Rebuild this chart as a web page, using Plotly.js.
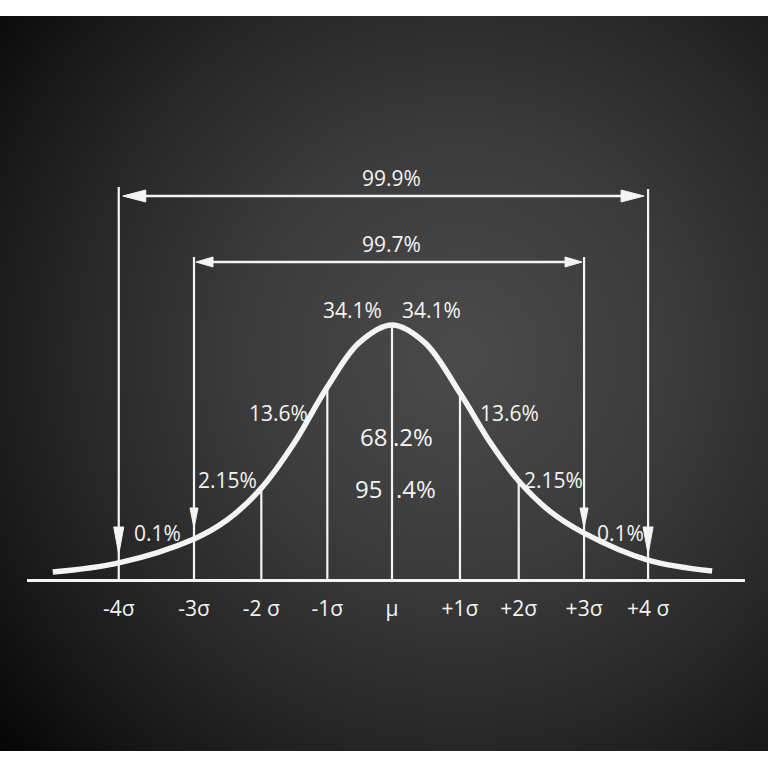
<!DOCTYPE html>
<html>
<head>
<meta charset="utf-8">
<script src="https://cdn.plot.ly/plotly-3.0.1.min.js"></script>
<style>
  html, body { margin: 0; padding: 0; background: #ffffff; }
  #chart { width: 768px; height: 768px; }
</style>
</head>
<body>
<div id="chart"></div>
<script>
// ---------------- DATA ----------------
// x values in sigma units, curve heights as a fraction of the peak height
const sigmaLabels = ["-4σ", "-3σ", "-2 σ", "-1σ", "μ", "+1σ", "+2σ", "+3σ", "+4 σ"];
const sigmaPos    = [-4.14, -3.00, -1.98, -0.98, 0, 1.03, 1.92, 2.91, 3.88];
const lineTop     = [1.541, 1.267, 0.36, 0.757, 1.0, 0.733, 0.388, 1.267, 1.533];

const curveX = [-5.14, -4.14, -3.00, -2.50, -1.98, -1.50, -0.98, -0.50, 0,
                0.50, 1.03, 1.50, 1.92, 2.40, 2.91, 3.88, 4.85];
const curveY = [0.031, 0.067, 0.161, 0.235, 0.360, 0.530, 0.757, 0.930, 1.0,
                0.930, 0.733, 0.535, 0.388, 0.268, 0.184, 0.078, 0.035];

const bandLabels     = ["0.1%", "2.15%", "13.6%", "34.1%", "34.1%", "13.6%", "2.15%", "0.1%"];
const coverageLabels = ["99.9%", "99.7%"];
const centralLabels  = [["68", ".2%"], ["95", ".4%"]];

// ---------------- LAYOUT / STYLE ----------------
const W = 768, H = 768;
const PX = 66;    // pixels per sigma
const PY = 255;   // pixels per unit height
const X0 = 392, Y0 = 580;  // pixel of (0,0)
const toX = px => (px - X0) / PX;
const toY = py => (Y0 - py) / PY;

const WHITE = "#f4f4f4";
const FONT = '"Open Sans", "Noto Sans", sans-serif';
const NARROW = '"Liberation Sans Narrow", "Open Sans", sans-serif';

// background chalkboard gradient
function boardImage() {
  const c = document.createElement("canvas");
  c.width = 768; c.height = 735;
  const g = c.getContext("2d");
  const rg = g.createRadialGradient(460, 340, 10, 460, 340, 600);
  rg.addColorStop(0.0, "#4a4a4a");
  rg.addColorStop(0.35, "#3b3b3b");
  rg.addColorStop(0.65, "#262626");
  rg.addColorStop(0.85, "#151515");
  rg.addColorStop(1.0, "#060606");
  g.fillStyle = rg;
  g.fillRect(0, 0, 768, 735);
  return c.toDataURL("image/png");
}

const traces = [];

// vertical sigma lines
const vx = [], vy = [];
sigmaPos.forEach((p, i) => { vx.push(p, p, null); vy.push(0, lineTop[i], null); });
traces.push({ x: vx, y: vy, mode: "lines", line: { color: WHITE, width: 2.2 }, hoverinfo: "skip" });

// bell curve
traces.push({ x: curveX, y: curveY, mode: "lines",
  line: { color: WHITE, width: 5.5, shape: "spline", smoothing: 1 }, hoverinfo: "skip" });

// arrow helpers (filled triangles)
function headDown(xTip, yTip, lenPx, halfPx) {
  return { x: [xTip - halfPx / PX, xTip + halfPx / PX, xTip, xTip - halfPx / PX],
           y: [yTip + lenPx / PY, yTip + lenPx / PY, yTip, yTip + lenPx / PY] };
}
function headH(xTip, y, dir, lenPx, halfPx) {
  const xb = xTip - dir * lenPx / PX;
  return { x: [xb, xb, xTip, xb], y: [y - halfPx / PY, y + halfPx / PY, y, y - halfPx / PY] };
}
const heads = [];
// vertical arrows on +-4 sigma and +-3 sigma
[[0, 554, 27, 5], [8, 554, 27, 5], [1, 528, 20, 4], [7, 528, 20, 4]].forEach(([i, tipPy, len, half]) => {
  heads.push(headDown(sigmaPos[i], toY(tipPy), len, half));
});
// horizontal coverage arrows
const covLevels = [toY(196), toY(262)];
const covEnds = [[0, 8], [1, 7]];
const covGap = [4, 2];
const covHead = [[23, 6], [17, 5]];
const hx = [], hy = [];
covEnds.forEach(([a, b], k) => {
  const xl = sigmaPos[a] + covGap[k] / PX, xr = sigmaPos[b] - covGap[k] / PX;
  hx.push(xl + 5 / PX, xr - 5 / PX, null); hy.push(covLevels[k], covLevels[k], null);
  heads.push(headH(xl, covLevels[k], -1, covHead[k][0], covHead[k][1]));
  heads.push(headH(xr, covLevels[k], 1, covHead[k][0], covHead[k][1]));
});
traces.push({ x: hx, y: hy, mode: "lines", line: { color: WHITE, width: 2.6 }, hoverinfo: "skip" });
heads.forEach(h => traces.push({ x: h.x, y: h.y, mode: "lines", fill: "toself",
  fillcolor: WHITE, line: { color: WHITE, width: 1 }, hoverinfo: "skip" }));

// text annotations
const ann = [];
function txt(text, px, py, size, family, xanchor) {
  ann.push({ text: text, x: toX(px), y: toY(py), xref: "x", yref: "y", showarrow: false,
    xanchor: xanchor || "center", yanchor: "middle",
    font: { color: WHITE, size: size, family: family } });
}
txt(coverageLabels[0], 391, 178, 21, FONT);
txt(coverageLabels[1], 391, 244, 21, FONT);
const bandPos = [[157, 533], [227, 480], [278, 413], [352, 310], [431, 310], [509, 413], [553, 480], [620, 533]];
bandLabels.forEach((t, i) => {
  const big = (i === 3 || i === 4);
  txt(t, bandPos[i][0], bandPos[i][1], 21, big ? FONT : NARROW);
});
txt(centralLabels[0][0], 389, 436, 24, FONT, "right");
txt(centralLabels[0][1], 391, 436, 24, FONT, "left");
txt(centralLabels[1][0], 384, 488, 24, FONT, "right");
txt(centralLabels[1][1], 394, 488, 24, FONT, "left");

const layout = {
  width: W, height: H,
  margin: { l: 0, r: 0, t: 0, b: 0, pad: 0 },
  paper_bgcolor: "#ffffff",
  plot_bgcolor: "rgba(0,0,0,0)",
  showlegend: false,
  xaxis: {
    domain: [27 / W, 745 / W],
    range: [toX(27), toX(745)],
    anchor: "free", position: 1 - Y0 / H,
    showline: true, linecolor: WHITE, linewidth: 3,
    showgrid: false, zeroline: false, ticks: "",
    tickmode: "array", tickvals: sigmaPos, ticktext: sigmaLabels,
    tickfont: { color: WHITE, size: 21, family: NARROW },
    ticklabelstandoff: 9,
    fixedrange: true
  },
  yaxis: {
    domain: [0, 1],
    range: [toY(H), toY(0)],
    visible: false, showgrid: false, zeroline: false, fixedrange: true
  },
  images: [{
    source: boardImage(), xref: "paper", yref: "paper",
    x: 0, y: 1 - 16 / H, sizex: 1, sizey: (751 - 16) / H,
    xanchor: "left", yanchor: "top", sizing: "stretch", layer: "below"
  }],
  annotations: ann
};

Plotly.newPlot("chart", traces, layout, { staticPlot: true, displayModeBar: false });
</script>
</body>
</html>
